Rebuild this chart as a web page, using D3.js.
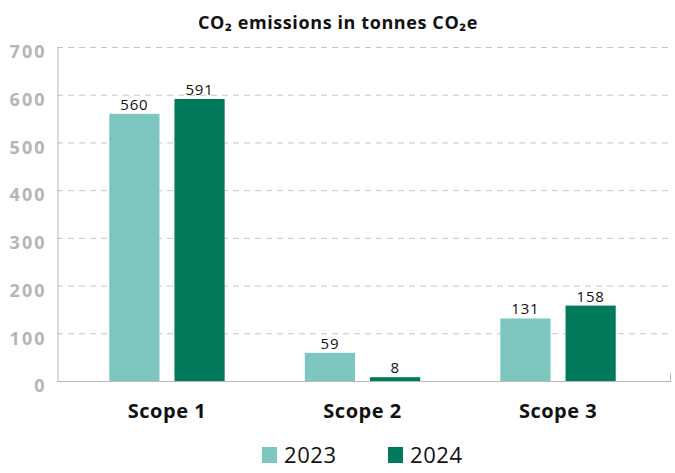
<!DOCTYPE html>
<html>
<head>
<meta charset="utf-8">
<script src="https://cdn.jsdelivr.net/npm/d3@7"></script>
<style>
  body { margin: 0; background: #fff; }
  svg { display: block; font-family: "Open Sans", sans-serif; }
</style>
</head>
<body>
<svg id="chart" width="675" height="473"></svg>
<script>
var categories = ["Scope 1", "Scope 2", "Scope 3"];
var years = ["2023", "2024"];
var values2023 = [560, 59, 131];
var values2024 = [591, 8, 158];
var yTicks = [0, 100, 200, 300, 400, 500, 600, 700];
var colors = ["#7cc6bf", "#007a5a"];

var svg = d3.select("#chart");

var y = d3.scaleLinear().domain([0, 700]).range([381, 47]);
var x = d3.scaleBand().domain(categories).range([69, 656]).paddingInner(0.41).paddingOuter(0.206);
var x1 = d3.scaleBand().domain(years).range([0, x.bandwidth()]).paddingInner(0.23);

// title
svg.append("text")
  .attr("x", 338).attr("y", 29)
  .attr("text-anchor", "middle")
  .attr("font-size", 18).attr("font-weight", 700)
  .attr("letter-spacing", 0.6)
  .attr("fill", "#111")
  .text("CO\u2082 emissions in tonnes CO\u2082e");

// grid lines
svg.append("g")
  .selectAll("line")
  .data(yTicks.filter(function(d) { return d > 0; }))
  .enter()
  .append("line")
  .attr("x1", 57).attr("x2", 670)
  .attr("y1", function(d) { return y(d) + 0.5; })
  .attr("y2", function(d) { return y(d) + 0.5; })
  .attr("stroke", "#c4c4c4")
  .attr("stroke-dasharray", "6,5");

// y axis
var yAxis = svg.append("g")
  .attr("transform", "translate(57.5,0)")
  .call(d3.axisLeft(y).tickValues(yTicks).tickSize(0).tickPadding(11));
yAxis.select(".domain").attr("stroke", "#b8b8b8");
yAxis.selectAll("text")
  .attr("font-size", 18).attr("font-weight", 700)
  .attr("letter-spacing", 2)
  .attr("dy", "0.6em")
  .attr("fill", "#b5b5b5")
  .attr("font-family", "Open Sans, sans-serif");

// bars
var rows = categories.map(function(c, i) {
  return { cat: c, vals: [values2023[i], values2024[i]] };
});
var groups = svg.append("g")
  .selectAll("g")
  .data(rows)
  .enter()
  .append("g")
  .attr("transform", function(d) { return "translate(" + x(d.cat) + ",0)"; });

groups.selectAll("rect")
  .data(function(d) { return d.vals.map(function(v, j) { return { year: years[j], v: v, j: j }; }); })
  .enter()
  .append("rect")
  .attr("x", function(d) { return x1(d.year); })
  .attr("width", x1.bandwidth())
  .attr("y", function(d) { return y(d.v); })
  .attr("height", function(d) { return y(0) - y(d.v); })
  .attr("fill", function(d) { return colors[d.j]; });

groups.selectAll("text")
  .data(function(d) { return d.vals.map(function(v, j) { return { year: years[j], v: v }; }); })
  .enter()
  .append("text")
  .attr("x", function(d) { return x1(d.year) + x1.bandwidth() / 2; })
  .attr("y", function(d) { return y(d.v) - 4; })
  .attr("text-anchor", "middle")
  .attr("font-size", 15)
  .attr("letter-spacing", 0.8)
  .attr("fill", "#111")
  .text(function(d) { return d.v; });

// x axis
svg.append("line")
  .attr("x1", 57).attr("x2", 671)
  .attr("y1", 381.5).attr("y2", 381.5)
  .attr("stroke", "#b8b8b8");
svg.append("line")
  .attr("x1", 670.5).attr("x2", 670.5)
  .attr("y1", 373).attr("y2", 381.5)
  .attr("stroke", "#b8b8b8");

svg.append("g")
  .selectAll("text")
  .data(categories)
  .enter()
  .append("text")
  .attr("x", function(d) { return x(d) + x.bandwidth() / 2; })
  .attr("y", 418)
  .attr("text-anchor", "middle")
  .attr("font-size", 20).attr("font-weight", 700)
  .attr("letter-spacing", 0.5)
  .attr("fill", "#111")
  .text(function(d) { return d; });

// legend
var legendX = [262, 388];
var legend = svg.append("g")
  .selectAll("g")
  .data(years)
  .enter()
  .append("g")
  .attr("transform", function(d, i) { return "translate(" + legendX[i] + ",447)"; });
legend.append("rect")
  .attr("width", 15).attr("height", 16)
  .attr("fill", function(d, i) { return colors[i]; });
legend.append("text")
  .attr("x", 22).attr("y", 16)
  .attr("font-size", 22)
  .attr("letter-spacing", 0.6)
  .attr("fill", "#111")
  .text(function(d) { return d; });
</script>
</body>
</html>
